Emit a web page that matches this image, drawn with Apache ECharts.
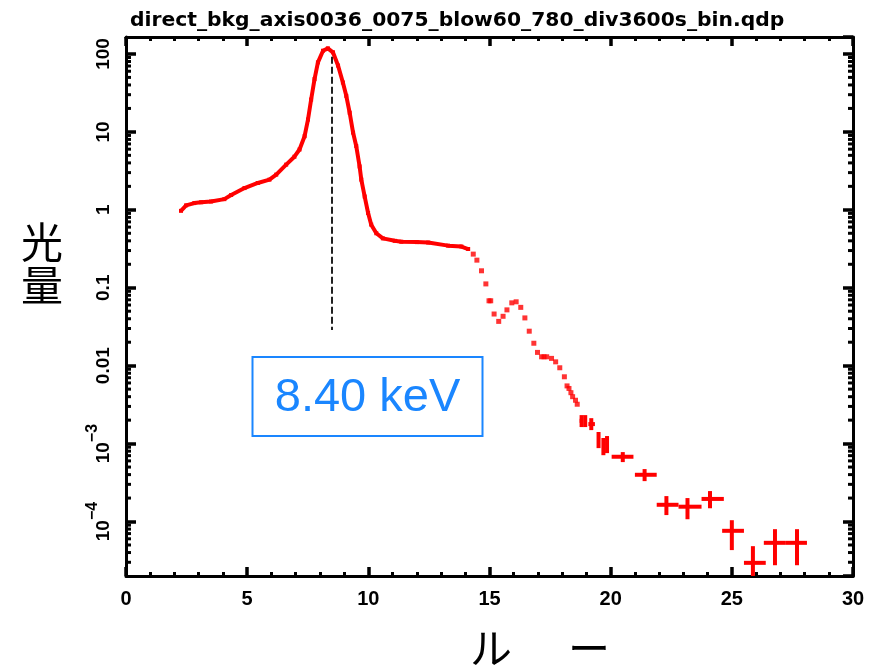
<!DOCTYPE html>
<html>
<head>
<meta charset="utf-8">
<script src="https://cdn.jsdelivr.net/npm/echarts@6/dist/echarts.min.js"></script>
<style>html,body{margin:0;padding:0;background:#fff}#c{width:880px;height:670px}</style>
</head>
<body>
<div id="c"></div>
<script>
// ---- data ----
const titleText = 'direct_bkg_axis0036_0075_blow60_780_div3600s_bin.qdp';
const xAxisName = ['ル', 'ー'];
const yAxisName = ['光', '量'];
const peakLabel = '8.40 keV';
const peakLineX = 8.5;
const peakLineY = [92, 0.0286];

const xTickValues = [0, 5, 10, 15, 20, 25, 30];
const yTickValues = [1e-4, 1e-3, 0.01, 0.1, 1, 10, 100];
const yTickLabels = ['10|−4', '10|−3', '0.01', '0.1', '1', '10', '100'];

// dense continuous part of the spectrum
const curveEnergy = [2.27,2.48,2.82,3.1,3.51,4.06,4.34,4.89,5.44,5.92,6.2,6.61,6.95,7.16,7.37,7.51,7.64,7.78,7.92,8.13,8.33,8.54,8.75,8.95,9.09,9.23,9.37,9.5,9.64,9.71,9.85,9.99,10.12,10.33,10.6,11.09,11.36,12.0,12.47,13.29,13.84,14.12];
const curveFlux = [0.97,1.14,1.22,1.25,1.28,1.37,1.55,1.9,2.21,2.44,2.83,3.8,4.8,5.94,8.8,14.4,26,47.6,78,110,118,105,71,43,29,17.6,9.8,6.6,3.6,2.44,1.48,0.91,0.645,0.5,0.43,0.40,0.39,0.385,0.38,0.347,0.338,0.314];

// separated bins
const pointEnergy = [14.33,14.48,14.67,14.85,14.98,15.05,15.19,15.38,15.56,15.72,15.92,16.1,16.29,16.46,16.64,16.83,16.98,17.15,17.25,17.36,17.56,17.73,17.9,18.09,18.2,18.28,18.36,18.43,18.55,18.62];
const pointFlux = [0.27,0.226,0.165,0.112,0.068,0.068,0.046,0.037,0.043,0.052,0.064,0.066,0.056,0.041,0.0277,0.0194,0.0148,0.013,0.013,0.013,0.0124,0.0112,0.0094,0.0072,0.0055,0.0051,0.0045,0.0040,0.0036,0.0032];

// bins with visible error bars
const errEnergy   = [18.8, 18.95, 19.2, 19.5, 19.7, 19.85, 20.5, 21.4, 22.3, 23.17, 24.1, 25.0, 25.87, 26.78, 27.69];
const errEnergyLo = [18.72, 18.9, 19.08, 19.45, 19.65, 19.8, 20.04, 21.0, 21.9, 22.8, 23.75, 24.6, 25.5, 26.32, 27.23];
const errEnergyHi = [18.85, 19.02, 19.35, 19.55, 19.75, 19.9, 20.94, 21.9, 22.8, 23.75, 24.67, 25.5, 26.4, 27.23, 28.1];
const errFlux   = [1.96e-3, 1.96e-3, 1.78e-3, 1.11e-3, 9.3e-4, 9.9e-4, 6.78e-4, 3.98e-4, 1.64e-4, 1.55e-4, 1.95e-4, 7.6e-5, 2.95e-5, 5.33e-5, 5.33e-5];
const errFluxLo = [1.63e-3, 1.63e-3, 1.49e-3, 8.75e-4, 7.1e-4, 7.55e-4, 5.79e-4, 3.30e-4, 1.21e-4, 1.07e-4, 1.48e-4, 4.3e-5, 1.5e-5, 2.75e-5, 2.75e-5];
const errFluxHi = [2.32e-3, 2.32e-3, 2.12e-3, 1.41e-3, 1.18e-3, 1.25e-3, 7.78e-4, 4.71e-4, 2.12e-4, 2.0e-4, 2.46e-4, 1.04e-4, 4.83e-5, 7.98e-5, 7.98e-5];

const xMin = 0, xMax = 30, yMin = 2.0e-5, yMax = 165;

// ---- chart ----
const RED = '#ff0000';
const BLUE = '#1a86ff';
const grid = {left: 126, right: 27, top: 37, bottom: 94};
const chart = echarts.init(document.getElementById('c'), null, {renderer: 'canvas'});

function yLabel(v) {
  let best = 0, d = Infinity;
  yTickValues.forEach((t, i) => { const dd = Math.abs(Math.log10(v) - Math.log10(t)); if (dd < d) { d = dd; best = i; } });
  if (d > 0.01) return '';
  const s = yTickLabels[best];
  if (s.indexOf('|') >= 0) { const p = s.split('|'); return '{b|' + p[0] + '}{s|' + p[1] + '}'; }
  return '{b|' + s + '}';
}

const axisLineStyle = {color: '#000', width: 3};
const fontBase = 'Liberation Sans';

const curveData = curveEnergy.map((e, i) => [e, curveFlux[i]]);
const pointData = pointEnergy.map((e, i) => [e, pointFlux[i]]);
const errData = errEnergy.map((e, i) => [e, errEnergyLo[i], errEnergyHi[i], errFlux[i], errFluxLo[i], errFluxHi[i]]);

const option = {
  animation: false,
  backgroundColor: '#fff',
  title: {
    text: titleText, left: 125, top: 6,
    textStyle: {fontFamily: 'DejaVu Sans', fontWeight: 'bold', fontSize: 20.3, color: '#000'}
  },
  grid: grid,
  xAxis: [
    {type: 'value', min: xMin, max: xMax, interval: 5, position: 'bottom',
     axisLine: {show: true, onZero: false, lineStyle: axisLineStyle},
     axisTick: {show: true, inside: true, length: 9, lineStyle: {color: '#000', width: 3.5}},
     minorTick: {show: true, splitNumber: 5, length: 4, lineStyle: {color: '#000', width: 3}},
     splitLine: {show: false},
     axisLabel: {show: true, margin: 13, fontFamily: fontBase, fontWeight: 'bold', fontSize: 20, color: '#000'}},
    {type: 'value', min: xMin, max: xMax, interval: 5, position: 'top',
     axisLine: {show: true, onZero: false, lineStyle: axisLineStyle},
     axisTick: {show: true, inside: true, length: 9, lineStyle: {color: '#000', width: 3.5}},
     minorTick: {show: true, splitNumber: 5, length: 4, lineStyle: {color: '#000', width: 3}},
     splitLine: {show: false}, axisLabel: {show: false}}
  ],
  yAxis: [
    {type: 'log', min: yMin, max: yMax, position: 'left',
     axisLine: {show: true, onZero: false, lineStyle: axisLineStyle},
     axisTick: {show: true, inside: true, length: 10, lineStyle: {color: '#000', width: 3.5}},
     splitLine: {show: false},
     axisLabel: {show: true, rotate: 90, margin: 13, showMinLabel: false, showMaxLabel: false,
       formatter: yLabel,
       rich: {
         b: {fontFamily: fontBase, fontWeight: 'bold', fontSize: 19, color: '#000', lineHeight: 28, verticalAlign: 'bottom'},
         s: {fontFamily: fontBase, fontWeight: 'bold', fontSize: 16, color: '#000', lineHeight: 28, verticalAlign: 'top'}
       }}},
    {type: 'log', min: yMin, max: yMax, position: 'right',
     axisLine: {show: true, onZero: false, lineStyle: axisLineStyle},
     axisTick: {show: true, inside: true, length: 10, lineStyle: {color: '#000', width: 3.5}},
     splitLine: {show: false}, axisLabel: {show: false}}
  ],
  series: [
    {type: 'line', name: 'curve', data: curveData, xAxisIndex: 0, yAxisIndex: 0,
     showSymbol: true, symbol: 'rect', symbolSize: 4, smooth: false,
     itemStyle: {color: RED}, lineStyle: {color: RED, width: 4}, z: 3,
     markLine: {silent: true, symbol: 'none', label: {show: false},
       lineStyle: {color: '#222', width: 2, type: [7, 3]},
       data: [[{coord: [peakLineX, peakLineY[0]]}, {coord: [peakLineX, peakLineY[1]]}]]}},
    {type: 'scatter', name: 'bins', data: pointData, symbol: 'rect', symbolSize: 5,
     itemStyle: {color: RED}, z: 3},
    {type: 'custom', name: 'errbins', data: errData, clip: true, z: 3,
     encode: {x: [0, 1, 2], y: [3, 4, 5]},
     renderItem: function (params, api) {
       const c = api.coord([api.value(0), api.value(3)]);
       const l = api.coord([api.value(1), api.value(3)]);
       const r = api.coord([api.value(2), api.value(3)]);
       const lo = api.coord([api.value(0), api.value(4)]);
       const hi = api.coord([api.value(0), api.value(5)]);
       const st = {stroke: RED, lineWidth: 4};
       return {type: 'group', children: [
         {type: 'line', shape: {x1: l[0], y1: c[1], x2: r[0], y2: c[1]}, style: st},
         {type: 'line', shape: {x1: c[0], y1: lo[1], x2: c[0], y2: hi[1]}, style: st}
       ]};
     }}
  ]
};
chart.setOption(option);

// log-axis minor ticks (2..9 per decade), positioned via the axis scale
const g = [];
const L = grid.left, R = 880 - grid.right;
for (let e = -5; e <= 2; e++) {
  for (let m = 2; m <= 9; m++) {
    const v = m * Math.pow(10, e);
    if (v <= yMin || v >= yMax) continue;
    const py = chart.convertToPixel({yAxisIndex: 0}, v);
    g.push({type: 'line', shape: {x1: L, y1: py, x2: L + 5, y2: py}, style: {stroke: '#000', lineWidth: 3}, z: 10});
    g.push({type: 'line', shape: {x1: R - 5, y1: py, x2: R, y2: py}, style: {stroke: '#000', lineWidth: 3}, z: 10});
  }
}
// annotation box
g.push({type: 'rect', shape: {x: 252.5, y: 357, width: 230, height: 79}, style: {fill: '#fff', stroke: BLUE, lineWidth: 2}, z: 20});
g.push({type: 'text', x: 367.5, y: 398, style: {text: peakLabel, fill: BLUE, font: '47px "Liberation Sans"', align: 'center', verticalAlign: 'middle'}, z: 21});
// axis names
g.push({type: 'text', x: 42, y: 242, style: {text: yAxisName[0], fill: '#000', font: '42px "Noto Sans CJK JP"', align: 'center', verticalAlign: 'middle'}});
g.push({type: 'text', x: 42, y: 285, style: {text: yAxisName[1], fill: '#000', font: '42px "Noto Sans CJK JP"', align: 'center', verticalAlign: 'middle'}});
g.push({type: 'text', x: 491, y: 648, style: {text: xAxisName[0], fill: '#000', font: '42px "Noto Sans CJK JP"', align: 'center', verticalAlign: 'middle'}});
g.push({type: 'text', x: 589, y: 648, style: {text: xAxisName[1], fill: '#000', font: '42px "Noto Sans CJK JP"', align: 'center', verticalAlign: 'middle'}});
chart.setOption({graphic: g});
</script>
</body>
</html>
